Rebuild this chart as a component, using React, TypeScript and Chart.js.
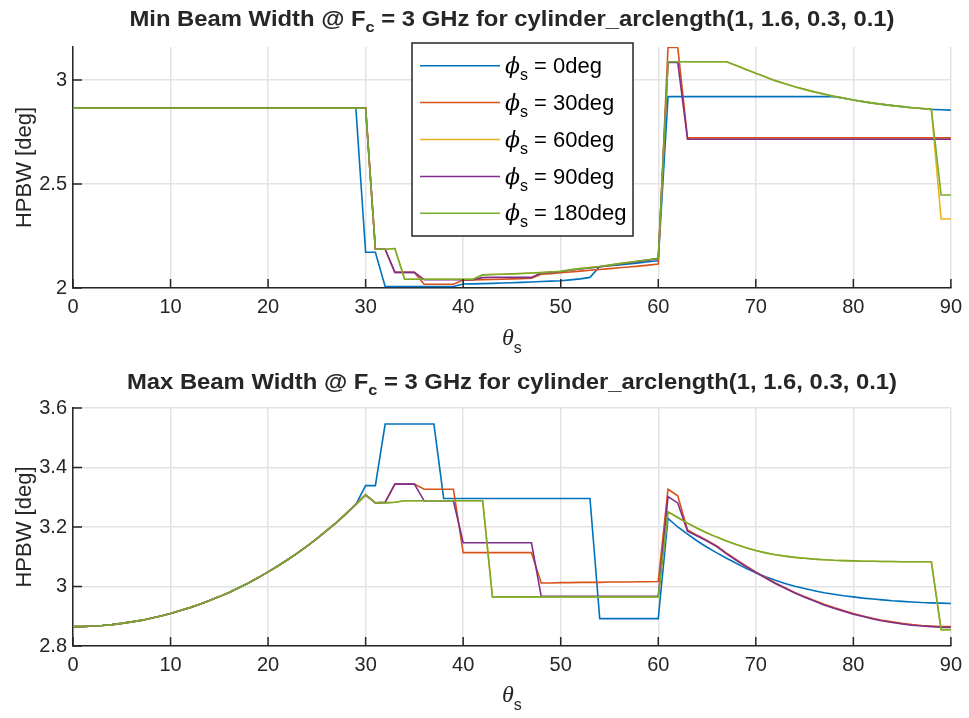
import { useEffect, useRef } from 'react';
import { Chart, registerables } from 'chart.js';

Chart.register(...registerables);

// ---------------- data ----------------
const theta = [
  0, 1, 2, 3, 4, 5, 6, 7, 8, 9, 10, 11, 12, 13, 14, 15, 16, 17, 18, 19, 20, 21, 22, 23, 24, 25, 26, 27, 28, 29,
  30, 31, 32, 33, 34, 35, 36, 37, 38, 39, 40, 41, 42, 43, 44, 45, 46, 47, 48, 49, 50, 51, 52, 53, 54, 55, 56, 57, 58, 59,
  60, 61, 62, 63, 64, 65, 66, 67, 68, 69, 70, 71, 72, 73, 74, 75, 76, 77, 78, 79, 80, 81, 82, 83, 84, 85, 86, 87, 88, 89, 90,
];

const seriesNames = ['0deg', '30deg', '60deg', '90deg', '180deg'];
const seriesColors = ['#0072BD', '#D95319', '#EDB120', '#7E2F8E', '#77AC30'];

const xTicks = [0, 10, 20, 30, 40, 50, 60, 70, 80, 90];
const minYTicks = [2, 2.5, 3];
const maxYTicks = [2.8, 3, 3.2, 3.4, 3.6];

// Min beam width (top)
const minBlue = [
  2.865, 2.865, 2.865, 2.865, 2.865, 2.865, 2.865, 2.865, 2.865, 2.865,
  2.865, 2.865, 2.865, 2.865, 2.865, 2.865, 2.865, 2.865, 2.865, 2.865,
  2.865, 2.865, 2.865, 2.865, 2.865, 2.865, 2.865, 2.865, 2.865, 2.865,
  2.172, 2.172,
  2.007, 2.007, 2.007, 2.007, 2.007, 2.007, 2.007, 2.007,
  2.019, 2.020, 2.021, 2.022, 2.024, 2.025, 2.027, 2.029, 2.031, 2.033, 2.035,
  2.039, 2.044, 2.051, 2.103, 2.107, 2.111, 2.116, 2.121, 2.126, 2.131,
  2.920, 2.920, 2.920, 2.920, 2.920, 2.920, 2.920, 2.920, 2.920,
  2.920, 2.920, 2.920, 2.920, 2.920, 2.920, 2.920, 2.920, 2.920,
  2.913, 2.904, 2.896, 2.889, 2.883, 2.877, 2.872, 2.867, 2.863, 2.859, 2.857, 2.855,
];
const minOrange = [
  2.865, 2.865, 2.865, 2.865, 2.865, 2.865, 2.865, 2.865, 2.865, 2.865,
  2.865, 2.865, 2.865, 2.865, 2.865, 2.865, 2.865, 2.865, 2.865, 2.865,
  2.865, 2.865, 2.865, 2.865, 2.865, 2.865, 2.865, 2.865, 2.865, 2.865, 2.865,
  2.186, 2.186,
  2.075, 2.075, 2.075,
  2.018, 2.018, 2.018, 2.018,
  2.038, 2.039, 2.040, 2.041, 2.042, 2.044, 2.045, 2.047, 2.066, 2.069, 2.073,
  2.077, 2.081, 2.085, 2.089, 2.093, 2.097, 2.101, 2.105, 2.110, 2.115,
  3.157, 3.157,
  2.722, 2.722, 2.722, 2.722, 2.722, 2.722, 2.722, 2.722, 2.722, 2.722, 2.722, 2.722, 2.722, 2.722,
  2.722, 2.722, 2.722, 2.722, 2.722, 2.722, 2.722, 2.722, 2.722, 2.722, 2.722, 2.722, 2.722, 2.722,
];
const minYellow = [
  2.865, 2.865, 2.865, 2.865, 2.865, 2.865, 2.865, 2.865, 2.865, 2.865,
  2.865, 2.865, 2.865, 2.865, 2.865, 2.865, 2.865, 2.865, 2.865, 2.865,
  2.865, 2.865, 2.865, 2.865, 2.865, 2.865, 2.865, 2.865, 2.865, 2.865, 2.865,
  2.186, 2.186, 2.190,
  2.042, 2.042, 2.042, 2.042, 2.042, 2.042, 2.042, 2.042,
  2.063, 2.065, 2.066, 2.068, 2.070, 2.072, 2.074, 2.077, 2.080, 2.087,
  2.093, 2.098, 2.103, 2.110, 2.117, 2.123, 2.130, 2.136, 2.143,
  3.088, 3.088, 3.088, 3.088, 3.088, 3.088, 3.088,
  3.070, 3.051, 3.032, 3.014, 2.997, 2.982, 2.968, 2.955, 2.943, 2.932, 2.922,
  2.913, 2.904, 2.896, 2.889, 2.883, 2.877, 2.872, 2.867, 2.863, 2.859,
  2.332, 2.332,
];
const minPurple = [
  2.865, 2.865, 2.865, 2.865, 2.865, 2.865, 2.865, 2.865, 2.865, 2.865,
  2.865, 2.865, 2.865, 2.865, 2.865, 2.865, 2.865, 2.865, 2.865, 2.865,
  2.865, 2.865, 2.865, 2.865, 2.865, 2.865, 2.865, 2.865, 2.865, 2.865, 2.865,
  2.186, 2.186,
  2.075, 2.075, 2.075,
  2.040, 2.040, 2.040, 2.040, 2.040, 2.040,
  2.050,
  2.051, 2.051, 2.051, 2.051, 2.051,
  2.072, 2.075, 2.078, 2.085, 2.091, 2.096, 2.101, 2.108, 2.115, 2.121, 2.128, 2.134, 2.141,
  3.085, 3.085,
  2.715, 2.715, 2.715, 2.715, 2.715, 2.715, 2.715, 2.715, 2.715, 2.715, 2.715, 2.715, 2.715, 2.715,
  2.715, 2.715, 2.715, 2.715, 2.715, 2.715, 2.715, 2.715, 2.715, 2.715, 2.715, 2.715, 2.715, 2.715,
];
const minGreen = [
  2.865, 2.865, 2.865, 2.865, 2.865, 2.865, 2.865, 2.865, 2.865, 2.865,
  2.865, 2.865, 2.865, 2.865, 2.865, 2.865, 2.865, 2.865, 2.865, 2.865,
  2.865, 2.865, 2.865, 2.865, 2.865, 2.865, 2.865, 2.865, 2.865, 2.865, 2.865,
  2.186, 2.186, 2.190,
  2.042, 2.042, 2.042, 2.042, 2.042, 2.042, 2.042, 2.042,
  2.063, 2.065, 2.066, 2.068, 2.070, 2.072, 2.074, 2.077, 2.080, 2.087,
  2.093, 2.098, 2.103, 2.110, 2.117, 2.123, 2.130, 2.136, 2.143,
  3.088, 3.088, 3.088, 3.088, 3.088, 3.088, 3.088,
  3.070, 3.051, 3.032, 3.014, 2.997, 2.982, 2.968, 2.955, 2.943, 2.932, 2.922,
  2.913, 2.904, 2.896, 2.889, 2.883, 2.877, 2.872, 2.867, 2.863, 2.859,
  2.447, 2.447,
];

// Max beam width (bottom)
const maxBlue = [
  2.865, 2.865, 2.867, 2.869, 2.872, 2.876, 2.881, 2.886, 2.893, 2.901,
  2.909, 2.919, 2.929, 2.940, 2.953, 2.966, 2.980, 2.996, 3.012, 3.030,
  3.049, 3.069, 3.090, 3.112, 3.136, 3.161, 3.188, 3.215, 3.245, 3.276,
  3.339, 3.339,
  3.546, 3.546, 3.546, 3.546, 3.546, 3.546,
  3.296, 3.296, 3.296, 3.296, 3.296, 3.296, 3.296, 3.296,
  3.296, 3.296, 3.296, 3.296, 3.296, 3.296, 3.296, 3.296,
  2.892, 2.892, 2.892, 2.892, 2.892, 2.892, 2.892,
  3.229, 3.200, 3.176, 3.153, 3.132, 3.113, 3.095, 3.078, 3.061, 3.046,
  3.033, 3.021, 3.010, 3.001, 2.993, 2.986, 2.979, 2.974, 2.969, 2.965,
  2.961, 2.958, 2.955, 2.952, 2.950, 2.948, 2.946, 2.945, 2.944, 2.943,
];
const maxOrange = [
  2.865, 2.865, 2.867, 2.869, 2.872, 2.876, 2.881, 2.886, 2.893, 2.901,
  2.909, 2.919, 2.929, 2.940, 2.953, 2.966, 2.980, 2.996, 3.012, 3.030,
  3.049, 3.069, 3.090, 3.112, 3.136, 3.161, 3.188, 3.215, 3.245, 3.276, 3.308,
  3.281, 3.283,
  3.344, 3.344, 3.344,
  3.327, 3.327, 3.327, 3.327,
  3.114, 3.114, 3.114, 3.114, 3.114, 3.114, 3.114, 3.114,
  3.012, 3.012, 3.013, 3.013, 3.014, 3.014, 3.014, 3.015, 3.015, 3.015, 3.016, 3.016, 3.017,
  3.327, 3.305, 3.190, 3.172, 3.155,
  3.136, 3.112, 3.090, 3.069, 3.049, 3.030, 3.012, 2.996, 2.980, 2.966,
  2.953, 2.940, 2.929, 2.919, 2.909, 2.901, 2.893, 2.886, 2.881, 2.876,
  2.872, 2.869, 2.867, 2.865, 2.865,
];
const maxYellow = [
  2.865, 2.865, 2.867, 2.869, 2.872, 2.876, 2.881, 2.886, 2.893, 2.901,
  2.909, 2.919, 2.929, 2.940, 2.953, 2.966, 2.980, 2.996, 3.012, 3.030,
  3.049, 3.069, 3.090, 3.112, 3.136, 3.161, 3.188, 3.215, 3.245, 3.276, 3.308,
  3.281, 3.281, 3.283,
  3.288, 3.288, 3.288, 3.288, 3.288, 3.288, 3.288, 3.288, 3.288,
  2.965, 2.965, 2.965, 2.965, 2.965, 2.965, 2.965, 2.965, 2.965,
  2.965, 2.965, 2.965, 2.965, 2.965, 2.965, 2.965, 2.965, 2.965,
  3.251, 3.232, 3.213, 3.196, 3.180, 3.166, 3.153, 3.141, 3.130, 3.121,
  3.113, 3.107, 3.102, 3.098, 3.095, 3.092, 3.090, 3.088, 3.087, 3.086,
  3.085, 3.085, 3.084, 3.084, 3.083, 3.083, 3.083, 3.083,
  2.855, 2.855,
];
const maxPurple = [
  2.865, 2.865, 2.867, 2.869, 2.872, 2.876, 2.881, 2.886, 2.893, 2.901,
  2.909, 2.919, 2.929, 2.940, 2.953, 2.966, 2.980, 2.996, 3.012, 3.030,
  3.049, 3.069, 3.090, 3.112, 3.136, 3.161, 3.188, 3.215, 3.245, 3.276, 3.308,
  3.281, 3.283,
  3.344, 3.344, 3.344,
  3.288, 3.288, 3.288, 3.288,
  3.147, 3.147, 3.147, 3.147, 3.147, 3.147, 3.147, 3.147,
  2.967, 2.967, 2.967, 2.967, 2.967, 2.967, 2.967, 2.967, 2.967, 2.967, 2.967, 2.967, 2.967,
  3.302, 3.281, 3.186, 3.170, 3.153,
  3.134, 3.110, 3.088, 3.067, 3.047, 3.028, 3.010, 2.994, 2.978, 2.964,
  2.951, 2.938, 2.927, 2.917, 2.907, 2.899, 2.891, 2.884, 2.879, 2.874,
  2.870, 2.867, 2.865, 2.863, 2.863,
];
const maxGreen = [
  2.865, 2.865, 2.867, 2.869, 2.872, 2.876, 2.881, 2.886, 2.893, 2.901,
  2.909, 2.919, 2.929, 2.940, 2.953, 2.966, 2.980, 2.996, 3.012, 3.030,
  3.049, 3.069, 3.090, 3.112, 3.136, 3.161, 3.188, 3.215, 3.245, 3.276, 3.308,
  3.281, 3.281, 3.283,
  3.288, 3.288, 3.288, 3.288, 3.288, 3.288, 3.288, 3.288, 3.288,
  2.965, 2.965, 2.965, 2.965, 2.965, 2.965, 2.965, 2.965, 2.965,
  2.965, 2.965, 2.965, 2.965, 2.965, 2.965, 2.965, 2.965, 2.965,
  3.251, 3.232, 3.213, 3.196, 3.180, 3.166, 3.153, 3.141, 3.130, 3.121,
  3.113, 3.107, 3.102, 3.098, 3.095, 3.092, 3.090, 3.088, 3.087, 3.086,
  3.085, 3.085, 3.084, 3.084, 3.083, 3.083, 3.083, 3.083,
  2.855, 2.855,
];

const minSeries = [minBlue, minOrange, minYellow, minPurple, minGreen];
const maxSeries = [maxBlue, maxOrange, maxYellow, maxPurple, maxGreen];

// ---------------- styling ----------------
const FONT = "'Liberation Sans', Arial, Helvetica, sans-serif";
const AXIS = '#262626';
const GRID = '#e3e3e3';
const W = 969;
const H = 359;

type Seg = { t: string; font: string; dy?: number };

function drawSegs(
  ctx: CanvasRenderingContext2D,
  segs: Seg[],
  x: number,
  y: number,
  align: 'left' | 'center',
  targetWidth?: number,
) {
  const widths = segs.map((s) => {
    ctx.font = s.font;
    return ctx.measureText(s.t).width;
  });
  const total = widths.reduce((a, b) => a + b, 0);
  const sx = targetWidth ? targetWidth / total : 1;
  ctx.save();
  ctx.translate(x, y);
  ctx.scale(sx, 1);
  ctx.textBaseline = 'alphabetic';
  ctx.textAlign = 'left';
  let cx = align === 'center' ? -total / 2 : 0;
  segs.forEach((s, i) => {
    ctx.font = s.font;
    ctx.fillText(s.t, cx, s.dy || 0);
    cx += widths[i];
  });
  ctx.restore();
}

const decorPlugin = {
  id: 'decor',
  afterDatasetsDraw(chart: any, _args: any, opts: any) {
    const ctx: CanvasRenderingContext2D = chart.ctx;
    const xs = chart.scales.x;
    const ys = chart.scales.y;
    const area = chart.chartArea;
    ctx.save();
    ctx.fillStyle = AXIS;
    ctx.strokeStyle = AXIS;
    ctx.lineWidth = 1.5;
    // inward tick marks
    ctx.beginPath();
    xTicks.forEach((v) => {
      const px = xs.getPixelForValue(v);
      ctx.moveTo(px, area.bottom);
      ctx.lineTo(px, area.bottom - 9);
    });
    (opts.yTicks as number[]).forEach((v) => {
      const py = ys.getPixelForValue(v);
      ctx.moveTo(area.left, py);
      ctx.lineTo(area.left + 9, py);
    });
    ctx.stroke();

    const cxPlot = (area.left + area.right) / 2;
    // title
    drawSegs(
      ctx,
      [
        { t: opts.titleLead + ' Beam Width @ F', font: `bold 22px ${FONT}` },
        { t: 'c', font: `bold 15px ${FONT}`, dy: 6 },
        { t: ' = 3 GHz for cylinder_arclength(1, 1.6, 0.3, 0.1)', font: `bold 22px ${FONT}` },
      ],
      cxPlot,
      opts.titleY,
      'center',
      opts.titleWidth,
    );
    // y label
    ctx.save();
    ctx.translate(31, (area.top + area.bottom) / 2);
    ctx.rotate(-Math.PI / 2);
    ctx.font = `22px ${FONT}`;
    ctx.textAlign = 'center';
    ctx.textBaseline = 'alphabetic';
    ctx.fillText('HPBW [deg]', 0, 0);
    ctx.restore();
    // x label
    drawSegs(
      ctx,
      [
        { t: 'θ', font: `italic 24px 'Liberation Serif', 'DejaVu Serif', serif` },
        { t: 's', font: `16px ${FONT}`, dy: 8 },
      ],
      cxPlot,
      opts.xLabelY,
      'center',
    );

    // legend
    if (opts.legend) {
      const lx = 412;
      const ly = 43;
      const lw = 221;
      const lh = 193;
      ctx.fillStyle = '#ffffff';
      ctx.fillRect(lx, ly, lw, lh);
      ctx.strokeStyle = AXIS;
      ctx.lineWidth = 1.5;
      ctx.strokeRect(lx, ly, lw, lh);
      const rows = [65.7, 102.5, 139.5, 176.5, 213.3];
      seriesNames.forEach((name, i) => {
        const ry = rows[i];
        ctx.strokeStyle = seriesColors[i];
        ctx.lineWidth = 1.6;
        ctx.beginPath();
        ctx.moveTo(420, ry);
        ctx.lineTo(500, ry);
        ctx.stroke();
        ctx.fillStyle = '#000000';
        drawSegs(
          ctx,
          [
            { t: 'ϕ', font: `italic 22px 'DejaVu Serif', 'Liberation Serif', serif` },
            { t: 's', font: `16px ${FONT}`, dy: 7 },
            { t: ' = ' + name, font: `22px ${FONT}` },
          ],
          505,
          ry + 7,
          'left',
        );
      });
    }
    ctx.restore();
  },
};

const fmt = (v: any) => String(Math.round(Number(v) * 1000) / 1000);

function makeConfig(series: number[][], yMin: number, yMax: number, yTicks: number[], padTop: number, padBottom: number, decor: any) {
  const orders = [5, 4, 3, 2, 1];
  return {
    type: 'line' as const,
    data: {
      datasets: series.map((arr, i) => ({
        label: seriesNames[i],
        data: theta.map((t, j) => ({ x: t, y: arr[j] })),
        borderColor: seriesColors[i],
        backgroundColor: seriesColors[i],
        borderWidth: 1.6,
        pointRadius: 0,
        tension: 0,
        fill: false,
        order: orders[i],
      })),
    },
    options: {
      animation: false as const,
      responsive: false,
      devicePixelRatio: 1,
      layout: { padding: { left: 0, right: 17, top: padTop, bottom: padBottom } },
      plugins: {
        legend: { display: false },
        tooltip: { enabled: false },
        title: { display: false },
        decor: { ...decor, yTicks },
      },
      scales: {
        x: {
          type: 'linear' as const,
          min: 0,
          max: 90,
          afterBuildTicks: (s: any) => {
            s.ticks = xTicks.map((v) => ({ value: v }));
          },
          afterFit: (s: any) => {
            s.height = 40;
          },
          grid: { color: GRID, lineWidth: 1.5, drawTicks: false },
          border: { color: AXIS, width: 1.5 },
          ticks: { color: AXIS, font: { family: FONT, size: 20 }, padding: 7, maxRotation: 0, autoSkip: false, callback: fmt },
        },
        y: {
          type: 'linear' as const,
          min: yMin,
          max: yMax,
          afterBuildTicks: (s: any) => {
            s.ticks = yTicks.map((v) => ({ value: v }));
          },
          afterFit: (s: any) => {
            s.width = 73;
          },
          grid: { color: GRID, lineWidth: 1.5, drawTicks: false },
          border: { color: AXIS, width: 1.5 },
          ticks: { color: AXIS, font: { family: FONT, size: 20 }, padding: 6, autoSkip: false, callback: fmt },
        },
      },
    },
    plugins: [decorPlugin],
  };
}

function ChartCanvas({ config }: { config: any }) {
  const ref = useRef<HTMLCanvasElement | null>(null);
  useEffect(() => {
    if (!ref.current) return;
    const chart = new Chart(ref.current, config);
    return () => chart.destroy();
  }, [config]);
  return <canvas ref={ref} width={W} height={H} style={{ display: 'block', width: W, height: H }} />;
}

const topConfig = makeConfig(minSeries, 2, 3.1587, minYTicks, 47, H - 288 - 40, {
  titleLead: 'Min',
  titleY: 26,
  titleWidth: 765,
  xLabelY: 345,
  legend: true,
});
const bottomConfig = makeConfig(maxSeries, 2.8, 3.6, maxYTicks, 49, H - 287 - 40, {
  titleLead: 'Max',
  titleY: 30,
  titleWidth: 770,
  xLabelY: 343,
  legend: false,
});

export default function App() {
  return (
    <div style={{ position: 'fixed', left: 0, top: 0, width: W, height: 718, background: '#ffffff' }}>
      <ChartCanvas config={topConfig} />
      <ChartCanvas config={bottomConfig} />
    </div>
  );
}
